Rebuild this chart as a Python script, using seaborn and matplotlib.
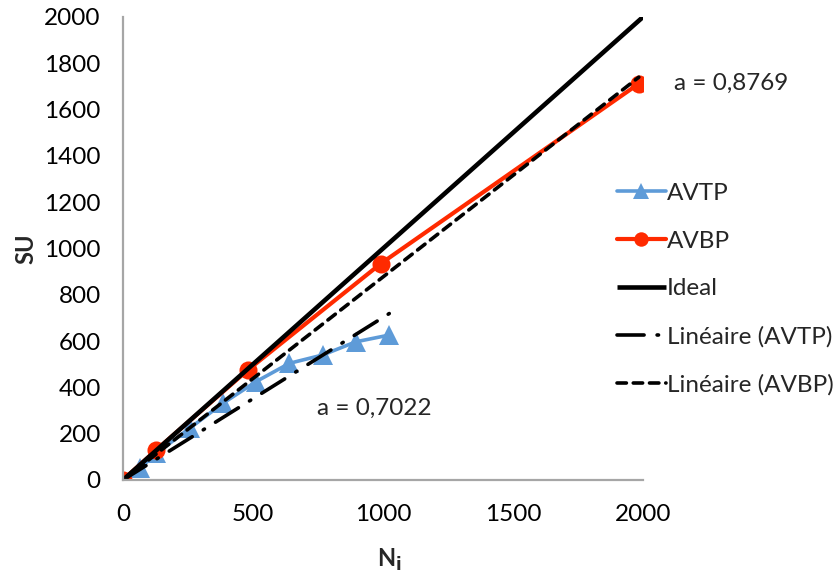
import matplotlib
matplotlib.use("Agg")
import matplotlib.pyplot as plt
import pandas as pd
import seaborn as sns

# values
avtp_n = [1, 64, 128, 256, 384, 512, 640, 768, 896, 1024]
avtp_su = [1, 50, 115, 223, 331, 425, 504, 540, 597, 626]
avbp_n = [1, 128, 480, 992, 1984]
avbp_su = [1, 130, 475, 935, 1712]
ideal_n = [0, 2000]
ideal_su = [0, 2000]
trend_avtp_n = [0, 1024]
trend_avtp_su = [0, 719]
trend_avbp_n = [0, 1984]
trend_avbp_su = [0, 1740]
slope_avtp = "0,7022"
slope_avbp = "0,8769"
x_ticks = [0, 500, 1000, 1500, 2000]
y_ticks = [0, 200, 400, 600, 800, 1000, 1200, 1400, 1600, 1800, 2000]

blue = "#5E9BD8"
red = "#FF2A00"

sns.set_style("white")
plt.rcParams["font.family"] = ["Lato", "DejaVu Sans"]

fig = plt.figure(figsize=(8.38, 5.79), dpi=100)
ax = fig.add_axes([0.1468, 0.171, 0.6205, 0.7997])

df_avtp = pd.DataFrame({"N": avtp_n, "SU": avtp_su})
df_avbp = pd.DataFrame({"N": avbp_n, "SU": avbp_su})
df_ideal = pd.DataFrame({"N": ideal_n, "SU": ideal_su})
df_tavtp = pd.DataFrame({"N": trend_avtp_n, "SU": trend_avtp_su})
df_tavbp = pd.DataFrame({"N": trend_avbp_n, "SU": trend_avbp_su})

sns.lineplot(data=df_avtp, x="N", y="SU", ax=ax, color=blue, linewidth=2.6,
             marker="^", markersize=15, markeredgewidth=0, label="AVTP",
             solid_capstyle="round")
sns.lineplot(data=df_avbp, x="N", y="SU", ax=ax, color=red, linewidth=3,
             marker="o", markersize=13, markeredgewidth=0, label="AVBP",
             solid_capstyle="round")
sns.lineplot(data=df_ideal, x="N", y="SU", ax=ax, color="black", linewidth=3.3,
             label="Ideal", solid_capstyle="butt")
sns.lineplot(data=df_tavtp, x="N", y="SU", ax=ax, color="black", linewidth=2.6,
             dashes=False, label="Linéaire (AVTP)")
sns.lineplot(data=df_tavbp, x="N", y="SU", ax=ax, color="black", linewidth=2.6,
             dashes=False, label="Linéaire (AVBP)")

lines = ax.get_lines()
lines[3].set_dashes((7.5, 3.6, 0.4, 3.6))
lines[3].set_dash_capstyle("round")
lines[4].set_dashes((2.6, 1.9))
lines[4].set_dash_capstyle("round")

ax.set_xlim(0, 2000)
ax.set_ylim(0, 2000)
ax.set_xticks(x_ticks)
ax.set_yticks(y_ticks)
ax.tick_params(axis="both", length=0, labelsize=17.5, colors="black")
ax.tick_params(axis="y", pad=16)
ax.tick_params(axis="x", pad=17)

for side in ["top", "right"]:
    ax.spines[side].set_visible(False)
for side in ["left", "bottom"]:
    ax.spines[side].set_color("#A6A6A6")
    ax.spines[side].set_linewidth(1.6)

ax.set_ylabel("SU", fontsize=17, fontweight="bold")
ax.yaxis.set_label_coords(-0.165, 0.5)
ax.set_xlabel(r"N$_\mathbf{i}$", fontsize=17, fontweight="bold")
ax.xaxis.set_label_coords(0.513, -0.145)

ax.text(2120, 1715, "a = " + slope_avbp, fontsize=17.5, va="center",
        ha="left", clip_on=False)
ax.text(746, 311, "a = " + slope_avtp, fontsize=17.5, va="center",
        ha="left")

ax.legend(loc="upper left", bbox_to_anchor=(0.722, 0.705),
          bbox_transform=fig.transFigure, frameon=False, fontsize=17.5,
          handlelength=2.0, handletextpad=0.05, labelspacing=1.1,
          borderpad=0, markerscale=0.8)

fig.savefig("out.png", dpi=100)
